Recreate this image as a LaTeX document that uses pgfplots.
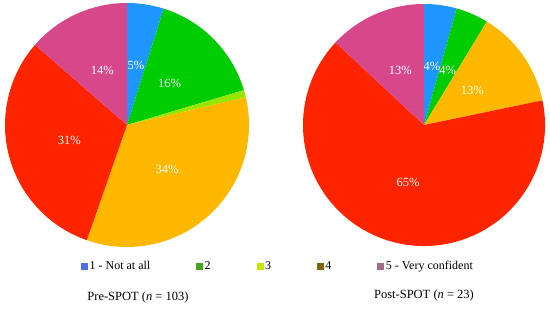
\documentclass[border=0pt]{standalone}
\usepackage{pgfplots}
\pgfplotsset{compat=1.18}
\usepackage{fontspec}
\setmainfont{Liberation Serif}

\definecolor{c1}{RGB}{30,150,255}
\definecolor{c2}{RGB}{0,205,0}
\definecolor{c3}{RGB}{150,230,0}
\definecolor{c4}{RGB}{255,184,0}
\definecolor{c5}{RGB}{255,36,0}
\definecolor{c6}{RGB}{214,72,138}
% legend swatches as they appear
\definecolor{l1}{RGB}{80,110,235}
\definecolor{l2}{RGB}{70,165,30}
\definecolor{l3}{RGB}{200,230,0}
\definecolor{l4}{RGB}{130,100,10}
\definecolor{l5}{RGB}{160,110,135}

% #1 total, #2 radius, #3 list count/colour/label
\newcommand{\pieslices}[3]{%
  \xdef\cum{0}%
  \foreach \v/\c/\l in {#3} {%
    \pgfmathsetmacro{\a}{\cum/#1*360}%
    \pgfmathsetmacro{\b}{(\cum+\v)/#1*360}%
    \pgfmathsetmacro{\m}{(\a+\b)/2}%
    \pgfmathsetmacro{\sa}{90-\a}%
    \pgfmathsetmacro{\ea}{90-\b}%
    \pgfmathsetmacro{\xa}{sin(\a)}%
    \pgfmathsetmacro{\ya}{cos(\a)}%
    \pgfmathsetmacro{\xm}{0.49*sin(\m)}%
    \pgfmathsetmacro{\ym}{0.49*cos(\m)}%
    \edef\tmp{\noexpand\fill[\c] (axis cs:0,0) -- (axis cs:\xa,\ya)
      arc[start angle=\sa, end angle=\ea, radius=#2] -- cycle;}%
    \tmp
    \edef\tmp{\noexpand\node[white,font=\noexpand\fontsize{12.5}{14}\noexpand\selectfont]
      at (axis cs:\xm,\ym) {\l};}%
    \tmp
    \pgfmathsetmacro{\nc}{\cum+\v}%
    \xdef\cum{\nc}%
  }%
}

\pgfplotsset{
  pie/.style={
    scale only axis, hide axis, clip=false,
    xmin=-1, xmax=1, ymin=-1, ymax=1,
    anchor=center,
  },
}

\begin{document}
\begin{tikzpicture}
\useasboundingbox (0pt,0pt) rectangle (550pt,314pt);

% Pre-SPOT
\begin{axis}[pie, at={(127pt,189pt)}, width=244pt, height=244pt,
    legend image code/.code={\fill[#1] (0pt,-3pt) rectangle (6pt,3pt);},
    legend style={at={(1.119,-0.078)}, anchor=center, draw=none, fill=none,
      legend columns=5, font=\fontsize{12}{14}\selectfont,
      /tikz/every even column/.append style={column sep=44pt}},
  ]
  \addlegendimage{l1}\addlegendentry{1 - Not at all}
  \addlegendimage{l2}\addlegendentry{2}
  \addlegendimage{l3}\addlegendentry{3}
  \addlegendimage{l4}\addlegendentry{4}
  \addlegendimage{l5}\addlegendentry{5 - Very confident}
  \pieslices{103}{122pt}{5/c1/5\%, 16/c2/16\%, 1/c3/, 35/c4/34\%, 32/c5/31\%, 14/c6/14\%}
  \node[font=\fontsize{12.5}{14}\selectfont] at (rel axis cs:0.545,-0.205)
    {Pre-SPOT (\textit{n} = 103)};
\end{axis}

% Post-SPOT
\begin{axis}[pie, at={(424pt,189pt)}, width=242pt, height=242pt]
  \pieslices{23}{121pt}{1/c1/4\%, 1/c2/4\%, 3/c4/13\%, 15/c5/65\%, 3/c6/13\%}
  \node[font=\fontsize{12.5}{14}\selectfont] at (rel axis cs:0.5,-0.205)
    {Post-SPOT (\textit{n} = 23)};
\end{axis}
\end{tikzpicture}
\end{document}
